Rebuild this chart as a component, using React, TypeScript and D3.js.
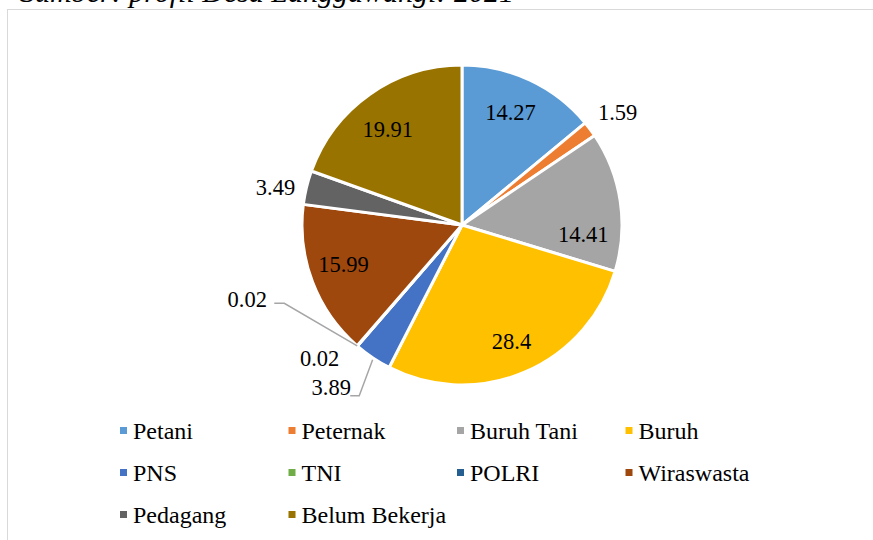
import React from 'react'
import {pie, arc, PieArcDatum} from 'd3'

// mata pencaharian penduduk (persen)
const categories = ['Petani', 'Peternak', 'Buruh Tani', 'Buruh', 'PNS', 'TNI', 'POLRI', 'Wiraswasta', 'Pedagang', 'Belum Bekerja']
const values = [14.27, 1.59, 14.41, 28.4, 3.89, 0.02, 0.02, 15.99, 3.49, 19.91]
const labels = ['14.27', '1.59', '14.41', '28.4', '3.89', '0.02', '0.02', '15.99', '3.49', '19.91']
const colors = ['#5B9BD5', '#ED7D31', '#A5A5A5', '#FFC000', '#4472C4', '#70AD47', '#255E91', '#9E480E', '#636363', '#997300']
const sourceNote = 'Sumber: profil Desa Langgawangi: 2021'

// label placement: angle shift (deg) and radius factor, like excel's "best fit"
const labelLayout = [
    {shift: -2, k: 0.77}, {shift: 1, k: 1.2}, {shift: 13, k: 0.76}, {shift: 0, k: 0.79},
    {shift: 5, k: 1.3, leader: 'below'}, {shift: 6, k: 1.22}, {shift: 30, k: 1.42, leader: 'left'},
    {shift: 2.5, k: 0.78}, {shift: -2, k: 1.19}, {shift: -2.5, k: 0.76},
]

const W = 873, H = 540
const cx = 462, cy = 225, R = 160
const serif = 'Liberation Serif, Times New Roman, serif'

type Row = {name: string, value: number, label: string, color: string}

export default function App() {
    const rows: Row[] = categories.map((c, i) => ({name: c, value: values[i], label: labels[i], color: colors[i]}))
    const arcs = pie<Row>().sort(null).value(d => d.value)(rows)
    const slice = arc<PieArcDatum<Row>>().innerRadius(0).outerRadius(R)

    const polar = (a: number, r: number): [number, number] => [cx + r * Math.sin(a), cy - r * Math.cos(a)]

    return (
        <svg width={W} height={H} style={{position: 'absolute', left: 0, top: 0, background: '#fff', fontFamily: serif}}>
            <text x={20} y={2} style={{fontFamily: serif, fontStyle: 'italic', fontSize: 30}}>{sourceNote}</text>
            <rect x={7.5} y={9.5} width={W + 10} height={H + 10} fill="#fff" stroke="#d9d9d9" />

            <g transform={`translate(${cx},${cy})`}>
                {arcs.map((a, i) => (
                    <path key={i} d={slice(a) || ''} fill={a.data.color} stroke="#fff" strokeWidth={3} strokeLinejoin="round" />
                ))}
            </g>

            {arcs.map((a, i) => {
                const lay = labelLayout[i]
                const mid = (a.startAngle + a.endAngle) / 2
                const [lx, ly] = polar(mid + lay.shift * Math.PI / 180, R * lay.k)
                const [ex, ey] = polar(mid, R)
                let leader = null
                if (lay.leader === 'below') {
                    const y0 = ly + 9
                    leader = <polyline points={`${lx + 19},${y0} ${lx + 28},${y0} ${ex},${ey + 2}`} fill="none" stroke="#a6a6a6" strokeWidth={1.5} />
                }
                if (lay.leader === 'left') {
                    const y0 = ly + 4
                    leader = <polyline points={`${lx + 27},${y0} ${lx + 37},${y0} ${ex},${ey}`} fill="none" stroke="#a6a6a6" strokeWidth={1.5} />
                }
                return (
                    <g key={i}>
                        {leader}
                        <text x={lx} y={ly} dy="0.35em" textAnchor="middle" style={{fontFamily: serif, fontSize: 22.5}} fill="#000">{a.data.label}</text>
                    </g>
                )
            })}

            <g>
                {rows.map((d, i) => {
                    const col = i % 4, row = Math.floor(i / 4)
                    const x = 120 + col * 168.5, y = 431 + row * 42
                    return (
                        <g key={i}>
                            <rect x={x} y={y - 4} width={7} height={7} fill={d.color} />
                            <text x={x + 13} y={y} dy="0.32em" style={{fontFamily: serif, fontSize: 24}}>{d.name}</text>
                        </g>
                    )
                })}
            </g>
        </svg>
    )
}
